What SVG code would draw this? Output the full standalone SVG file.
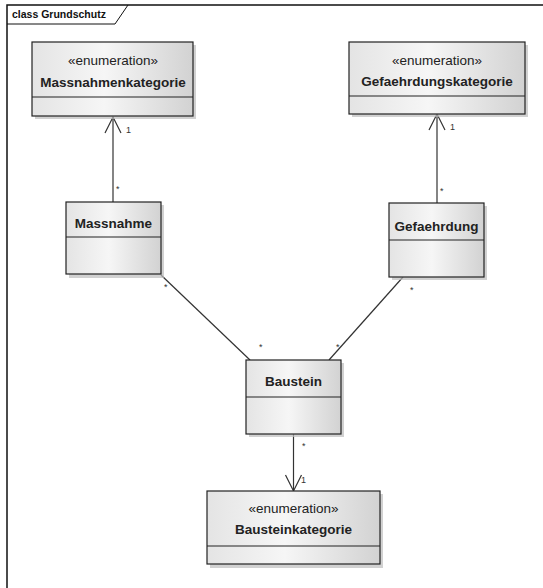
<svg xmlns="http://www.w3.org/2000/svg" width="543" height="588" viewBox="0 0 543 588">
<style>
  .box{fill:url(#g);stroke:#222;stroke-width:1.2}
  .sh{fill:#bdbdbd;opacity:0.7}
  .div{stroke:#222;stroke-width:1.2}
  .ster{font-family:"Liberation Sans",Arial,sans-serif;font-size:13.5px;fill:#222;text-anchor:middle}
  .name{font-family:"Liberation Sans",Arial,sans-serif;font-size:13.5px;font-weight:bold;fill:#222;text-anchor:middle}
  .lbl{font-family:"Liberation Sans",Arial,sans-serif;font-size:9px;fill:#333}
  .conn{stroke:#333;stroke-width:1.2;fill:none}
  .frame{stroke:#111;stroke-width:1.5;fill:none}
</style>
<defs>
  <linearGradient id="g" x1="0" y1="0" x2="1" y2="0">
    <stop offset="0" stop-color="#e4e4e4"/>
    <stop offset="0.45" stop-color="#f6f6f6"/>
    <stop offset="1" stop-color="#d2d2d2"/>
  </linearGradient>
  <marker id="open" markerUnits="userSpaceOnUse" markerWidth="20" markerHeight="20" viewBox="-18 -10 20 20" refX="0" refY="0" orient="auto">
    <path d="M-16,-8 L0,0 L-16,8" fill="none" stroke="#333" stroke-width="1.2"/>
  </marker>
</defs>
<rect width="543" height="588" fill="#fff"/>
<g id="frame">
  <path class="frame" d="M7,588 L7,5 L543,5"/>
  <path d="M7,24 L115,24 L128,5" fill="none" stroke="#111" stroke-width="1"/>
  <text x="12" y="18" font-family="Liberation Sans,Arial,sans-serif" font-size="10.5px" font-weight="bold" fill="#111">class Grundschutz</text>
</g>
<g id="connectors">
  <line class="conn" x1="113" y1="202" x2="113" y2="117" marker-end="url(#open)"/>
  <line class="conn" x1="437" y1="203" x2="437" y2="114" marker-end="url(#open)"/>
  <line class="conn" x1="161" y1="275" x2="250" y2="360"/>
  <line class="conn" x1="403" y1="277" x2="329" y2="360"/>
  <line class="conn" x1="293.5" y1="434" x2="293.5" y2="491" marker-end="url(#open)"/>
  <text class="lbl" x="126" y="133">1</text>
  <text class="lbl" x="116" y="192">*</text>
  <text class="lbl" x="450" y="130">1</text>
  <text class="lbl" x="440" y="194">*</text>
  <text class="lbl" x="164" y="290">*</text>
  <text class="lbl" x="259" y="350">*</text>
  <text class="lbl" x="336" y="350">*</text>
  <text class="lbl" x="410" y="293">*</text>
  <text class="lbl" x="302" y="449">*</text>
  <text class="lbl" x="301" y="483">1</text>
</g>
<g id="Massnahmenkategorie">
  <rect class="sh" x="35" y="45" width="161" height="74"/>
  <rect class="box" x="32" y="42" width="161" height="74"/>
  <line class="div" x1="32" y1="97" x2="193" y2="97"/>
  <text class="ster" x="113" y="65">«enumeration»</text>
  <text class="name" x="113" y="86.5">Massnahmenkategorie</text>
</g>
<g id="Gefaehrdungskategorie">
  <rect class="sh" x="352" y="45" width="176" height="72"/>
  <rect class="box" x="349" y="42" width="176" height="72"/>
  <line class="div" x1="349" y1="96" x2="525" y2="96"/>
  <text class="ster" x="437" y="65">«enumeration»</text>
  <text class="name" x="437" y="86">Gefaehrdungskategorie</text>
</g>
<g id="Massnahme">
  <rect class="sh" x="69" y="205" width="95" height="73"/>
  <rect class="box" x="66" y="202" width="95" height="72"/>
  <line class="div" x1="66" y1="237" x2="161" y2="237"/>
  <text class="name" x="113.5" y="227.5">Massnahme</text>
</g>
<g id="Gefaehrdung">
  <rect class="sh" x="392" y="206" width="95" height="74"/>
  <rect class="box" x="389" y="203" width="95" height="74"/>
  <line class="div" x1="389" y1="240" x2="484" y2="240"/>
  <text class="name" x="436.5" y="230.5">Gefaehrdung</text>
</g>
<g id="Baustein">
  <rect class="sh" x="249" y="363" width="95" height="74"/>
  <rect class="box" x="246" y="360" width="95" height="74"/>
  <line class="div" x1="246" y1="397" x2="341" y2="397"/>
  <text class="name" x="293.5" y="385.5">Baustein</text>
</g>
<g id="Bausteinkategorie">
  <rect class="sh" x="210" y="494" width="173" height="74"/>
  <rect class="box" x="207" y="491" width="173" height="73"/>
  <line class="div" x1="207" y1="546" x2="380" y2="546"/>
  <text class="ster" x="293.5" y="512.5">«enumeration»</text>
  <text class="name" x="293.5" y="534">Bausteinkategorie</text>
</g>
</svg>
